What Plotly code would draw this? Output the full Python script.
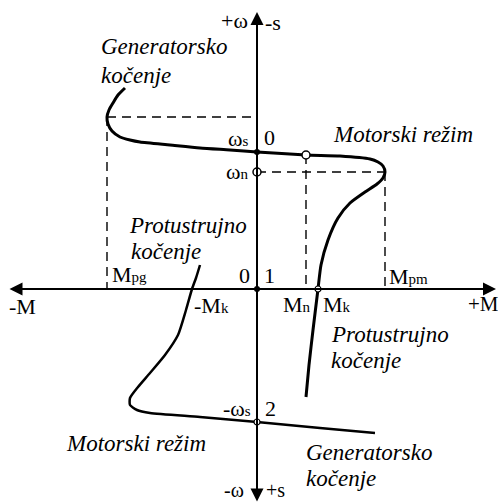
import plotly.graph_objects as go

# characteristic of the machine, M (x) vs omega (y), origin at the axis crossing
upper_M = [-132, -139, -144, -148, -150, -149, -145, -137, -127, -117, -87, -57, -27, 0,
           49, 83, 113, 121, 126, 128, 126, 120, 108, 93, 81, 71, 64, 61, 56, 52, 49]
upper_w = [201, 194, 186, 179, 172, 165, 158, 152, 149, 147, 144, 141, 139, 137,
           134, 133, 130, 127, 123, 117, 111, 105, 97, 86, 71, 49, 24, 0, -41, -76, -108]

lower_M = [-57, -61, -65, -71, -79, -92, -107, -119, -127, -127, -120, -107, -57, 0, 63, 118]
lower_w = [24, 11, 0, -21, -46, -66, -84, -98, -109, -116, -121, -124, -128, -133, -139, -144]

# characteristic points
M_pg, w_pg = -150, 172
M_pm, w_n = 128, 117
M_n, w_Mn = 49, 134
M_k = 61
w_s, w_s_neg = 137, -133

open_M = [0, M_n]
open_w = [w_n, w_Mn]
small_open_M = [M_k, 0]
small_open_w = [0, w_s_neg]
dot_M = [0, 0]
dot_w = [0, w_s]

dashed = [
    ([M_pg, 0], [w_pg, w_pg]),
    ([M_pg, M_pg], [w_pg, 0]),
    ([0, M_pm], [w_n, w_n]),
    ([M_pm, M_pm], [w_n, 0]),
    ([M_n, M_n], [w_Mn, 0]),
]

SERIF = "Liberation Serif, Times New Roman, serif"

fig = go.Figure()

for xs, ys in dashed:
    fig.add_trace(go.Scatter(x=xs, y=ys, mode="lines",
                             line=dict(color="black", width=1.4, dash="9px,6px")))

fig.add_trace(go.Scatter(x=upper_M, y=upper_w, mode="lines",
                         line=dict(color="black", width=3, shape="spline", smoothing=0.6)))
fig.add_trace(go.Scatter(x=lower_M, y=lower_w, mode="lines",
                         line=dict(color="black", width=2.5, shape="spline", smoothing=0.6)))

fig.add_trace(go.Scatter(x=dot_M, y=dot_w, mode="markers",
                         marker=dict(color="black", size=6)))
fig.add_trace(go.Scatter(x=open_M, y=open_w, mode="markers",
                         marker=dict(color="white", size=8, line=dict(color="black", width=1.5))))
fig.add_trace(go.Scatter(x=small_open_M, y=small_open_w, mode="markers",
                         marker=dict(color="white", size=6, line=dict(color="black", width=1.2))))

# axes with arrows
axis_arrows = [(239, 0, -249, 0), (0, 277, 0, -214)]
for x1, y1, x0, y0 in axis_arrows:
    fig.add_annotation(x=x1, y=y1, ax=x0, ay=y0, xref="x", yref="y", axref="x", ayref="y",
                       text="", showarrow=True, arrowhead=2, arrowside="end+start",
                       arrowsize=1.3, arrowwidth=2, arrowcolor="black")


def label(txt, px, py, size=22, italic=False):
    fig.add_annotation(x=px - 257, y=289 - py, text=txt, showarrow=False,
                       xanchor="left", yanchor="middle",
                       font=dict(family=SERIF, size=size, color="black",
                                 style="italic" if italic else "normal"))


def sub(a, b):
    return a + "<span style='font-size:15px'>" + b + "</span>"


# region names
label("Generatorsko", 99, 46, 23, True)
label("kočenje", 99, 75, 23, True)
label("Motorski režim", 331, 134, 23, True)
label("Protustrujno", 127, 225, 23, True)
label("kočenje", 129, 251, 23, True)
label("Protustrujno", 329, 334, 23, True)
label("kočenje", 329, 360, 23, True)
label("Motorski režim", 64, 443, 23, True)
label("Generatorsko", 304, 452, 23, True)
label("kočenje", 304, 478, 23, True)

# axis and point labels
label("+ω", 219, 20)
label("-s", 263, 22)
label(sub("ω", "s"), 226, 138)
label("0", 262, 137)
label(sub("ω", "n"), 224, 171)
label(sub("M", "pg"), 110, 274)
label("0", 237, 275)
label("1", 262, 275)
label("-M", 7, 306)
label(sub("-M", "k"), 192, 305)
label(sub("M", "n"), 281, 304)
label(sub("M", "k"), 321, 304)
label(sub("M", "pm"), 387, 276)
label("+M", 466, 304, 21)
label(sub("-ω", "s"), 221, 408)
label("2", 263, 408)
label("-ω", 222, 490, 20)
label("+s", 264, 490, 20)

fig.update_layout(
    width=498, height=504, autosize=False,
    margin=dict(l=0, r=0, t=0, b=0),
    paper_bgcolor="white", plot_bgcolor="white",
    showlegend=False,
    xaxis=dict(range=[-257, 241], visible=False, fixedrange=True),
    yaxis=dict(range=[-215, 289], visible=False, fixedrange=True),
)

# the page body has a default 8px margin; drop it so the figure fills the window
fig.write_html("out.html", config={"displayModeBar": False},
               post_script="document.body.style.margin='0';")
